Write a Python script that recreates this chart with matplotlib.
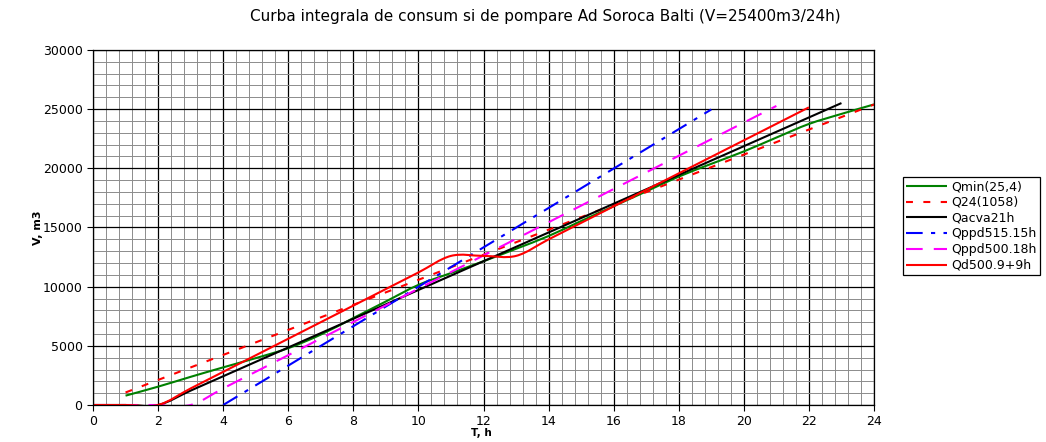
import numpy as np
import matplotlib
matplotlib.use("Agg")
import matplotlib.pyplot as plt
from matplotlib.path import Path
from matplotlib.patches import PathPatch
from matplotlib.lines import Line2D
from matplotlib.ticker import MultipleLocator

plt.rcParams['font.family'] = ['DejaVu Sans']
plt.rcParams['lines.scale_dashes'] = False

# ---- data (hour, cumulative volume m3) ----
qmin_h = list(range(1, 25))
qmin_v = [790, 1550, 2380, 3180, 3960, 4800, 5950, 7350, 8750, 10150, 11150, 12150,
          13200, 14280, 15550, 16800, 18050, 19300, 20380, 21430, 22600, 23750, 24600, 25400]

q24_h = list(range(1, 25))
q24_v = [1058, 2116, 3174, 4232, 5290, 6348, 7406, 8464, 9522, 10580, 11638, 12696,
         13754, 14812, 15870, 16928, 17986, 19044, 20102, 21160, 22218, 23276, 24334, 25392]

acva_h = list(range(0, 24))
acva_v = [0, 0, 0, 1215, 2430, 3645, 4860, 6075, 7290, 8505, 9720, 10935,
          12150, 13365, 14580, 15795, 17010, 18225, 19440, 20655, 21870, 23085, 24300, 25515]

ppd515_h = list(range(4, 20))
ppd515_v = [0, 1665, 3330, 4995, 6660, 8325, 9990, 11655, 13320, 14985, 16650, 18315,
            19980, 21645, 23310, 24975]

ppd500_h = list(range(0, 22))
ppd500_v = [0, 0, 0, 0, 1404, 2808, 4212, 5616, 7020, 8424, 9828, 11232, 12636,
            14040, 15444, 16848, 18252, 19656, 21060, 22464, 23868, 25272]

qd_h = list(range(0, 23))
qd_v = [0, 0, 0, 1400, 2800, 4200, 5600, 7000, 8400, 9800, 11200, 12600, 12600,
        12600, 13995, 15390, 16785, 18180, 19575, 20970, 22365, 23760, 25155]

labels = ['Qmin(25,4)', 'Q24(1058)', 'Qacva21h', 'Qppd515.15h', 'Qppd500.18h', 'Qd500.9+9h']
colors = ['#008000', '#FF0000', '#000000', '#0000FF', '#FF00FF', '#FF0000']
styles = ['-', (0, (5, 7.5)), '-', (0, (12, 6, 3, 6)), (0, (12, 8)), '-']

title = 'Curba integrala de consum si de pompare Ad Soroca Balti (V=25400m3/24h)'


def smooth_path(x, y):
    """Cardinal-spline (Catmull-Rom) Bezier path through the points."""
    pts = np.column_stack([np.asarray(x, float), np.asarray(y, float)])
    n = len(pts)
    verts = [pts[0]]
    codes = [Path.MOVETO]
    for i in range(n - 1):
        p0 = pts[i - 1] if i > 0 else pts[i]
        p1 = pts[i]
        p2 = pts[i + 1]
        p3 = pts[i + 2] if i + 2 < n else pts[i + 1]
        verts += [p1 + (p2 - p0) / 6.0, p2 - (p3 - p1) / 6.0, p2]
        codes += [Path.CURVE4] * 3
    return Path(verts, codes)


fig = plt.figure(figsize=(10.46, 4.42), dpi=100)
ax = fig.add_axes([93 / 1046, 1 - 405 / 442, (874 - 93) / 1046, (405 - 50) / 442])

ax.set_xlim(0, 24)
ax.set_ylim(0, 30000)
ax.xaxis.set_major_locator(MultipleLocator(2))
ax.xaxis.set_minor_locator(MultipleLocator(0.4))
ax.yaxis.set_major_locator(MultipleLocator(5000))
ax.yaxis.set_minor_locator(MultipleLocator(1000))

ax.grid(which='minor', color='#8c8c8c', linewidth=0.7, linestyle='-')
ax.grid(which='major', color='#000000', linewidth=0.9)
ax.set_axisbelow(True)

ax.tick_params(which='major', direction='out', length=4, width=0.8, labelsize=9, color='black')
ax.tick_params(which='minor', length=0)
for s in ax.spines.values():
    s.set_color('#000000')
    s.set_linewidth(0.9)

series = [(qmin_h, qmin_v), (q24_h, q24_v), (acva_h, acva_v),
          (ppd515_h, ppd515_v), (ppd500_h, ppd500_v), (qd_h, qd_v)]

handles = []
for (hx, vy), lab, col, ls in zip(series, labels, colors, styles):
    patch = PathPatch(smooth_path(hx, vy), fill=False, edgecolor=col, linewidth=1.5,
                      linestyle=ls, capstyle='butt', joinstyle='round')
    ax.add_patch(patch)
    handles.append(Line2D([], [], color=col, linewidth=1.5, linestyle=ls,
                          solid_capstyle='butt', dash_capstyle='butt'))

ax.set_ylabel('V, m3', fontsize=8, fontweight='bold')
ax.yaxis.set_label_coords(-50 / 781, 0.5)
ax.set_xlabel('T, h', fontsize=7.5, fontweight='bold')
ax.xaxis.set_label_coords((481 - 93) / 781, -(433 - 405) / 355)
ax.xaxis.label.set_va('center')

fig.text(545 / 1046, 1 - 16 / 442, title, ha='center', va='center', fontsize=11)

leg = fig.legend(handles, labels, loc='upper left', bbox_to_anchor=(903 / 1046, 1 - 177 / 442),
                 fontsize=9, frameon=True, fancybox=False, edgecolor='black', framealpha=1,
                 handlelength=3.3, handletextpad=0.35, borderpad=0.25, labelspacing=0.22,
                 borderaxespad=0)
leg.get_frame().set_linewidth(0.9)

fig.savefig('out.png', dpi=100, facecolor='white')
